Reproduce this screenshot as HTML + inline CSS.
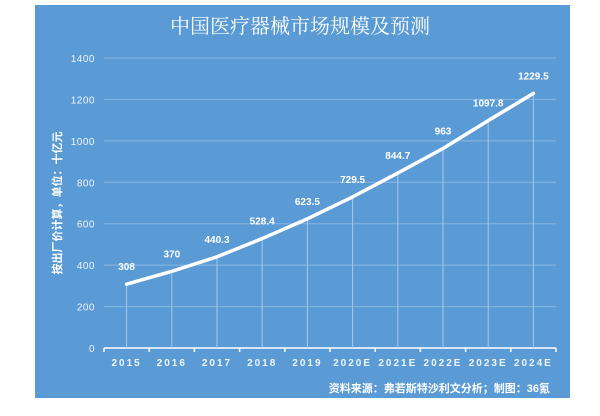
<!DOCTYPE html>
<html><head><meta charset="utf-8"><style>
body{margin:0;background:#fff;width:600px;height:411px;overflow:hidden}
svg text{font-family:"Liberation Sans","Noto Sans CJK SC",sans-serif}
</style></head><body>
<svg id="c" width="600" height="411">
<rect x="35" y="5" width="535" height="393" fill="#5b9bd5"/>
<text x="300" y="33" text-anchor="middle" fill="#fff" font-size="20" style="font-family:'Noto Serif CJK SC',serif">中国医疗器械市场规模及预测</text>
<text transform="translate(61,203) rotate(-90)" text-anchor="middle" fill="#fff" font-size="11" font-weight="bold">按出厂价计算，单位：十亿元</text>
<text x="550" y="392" text-anchor="end" fill="#fff" font-size="11" font-weight="bold">资料来源：弗若斯特沙利文分析；制图：36氪</text>
<g id="g"></g>
</svg>
<script>
const categories=["2015","2016","2017","2018","2019","2020E","2021E","2022E","2023E","2024E"];
const values=[308,370,440.3,528.4,623.5,729.5,844.7,963,1097.8,1229.5];
const labels=["308","370","440.3","528.4","623.5","729.5","844.7","963","1097.8","1229.5"];
const yTicks=[0,200,400,600,800,1000,1200,1400];
const NS="http://www.w3.org/2000/svg",g=document.getElementById('g');
const x0=104,x1=556,y0=348,yTop=58;
const step=(x1-x0)/categories.length;
const xs=i=>x0+step*(i+0.5);
const ys=v=>y0-(v/1400)*(y0-yTop);
function mk(t,a){const e=document.createElementNS(NS,t);for(const k in a)e.setAttribute(k,a[k]);g.appendChild(e);return e;}
yTicks.forEach(v=>{
 if(v>0){const l=mk('line',{x1:x0,x2:x1,y1:ys(v),y2:ys(v),stroke:'#86b6e3','stroke-width':1});
 
 }
 const t=mk('text',{x:95,y:ys(v)+4,'text-anchor':'end',fill:'#eef5fc','font-size':10,'letter-spacing':'0.5'});t.textContent=v;
 
 
});
const ax=mk('line',{x1:x0,x2:x1,y1:y0,y2:y0,stroke:'#fff','stroke-width':1.5});


for(let i=0;i<=categories.length;i++){const t=mk('line',{x1:x0+step*i,x2:x0+step*i,y1:y0,y2:y0+4,stroke:'#fff','stroke-width':1.5});
 
 }
let d='';
categories.forEach((c,i)=>{
 const dl=mk('line',{x1:xs(i),x2:xs(i),y1:ys(values[i]),y2:y0,stroke:'#a3c8ec','stroke-width':1});
 
 
 const t=mk('text',{x:xs(i),y:y0+18,'text-anchor':'middle',fill:'#eef5fc','font-size':10,'font-weight':'bold','letter-spacing':'2'});t.textContent=c;
 
 
 const v=mk('text',{x:xs(i),y:ys(values[i])-14,'text-anchor':'middle',fill:'#fff','font-size':10,'font-weight':'bold'});v.textContent=labels[i];
 
 
 d+=(i?'L':'M')+xs(i)+','+ys(values[i]);
});
const p=mk('path',{d:d,fill:'none',stroke:'#fff','stroke-width':3.5,'stroke-linejoin':'round','stroke-linecap':'round'});


</script>
</body></html>
